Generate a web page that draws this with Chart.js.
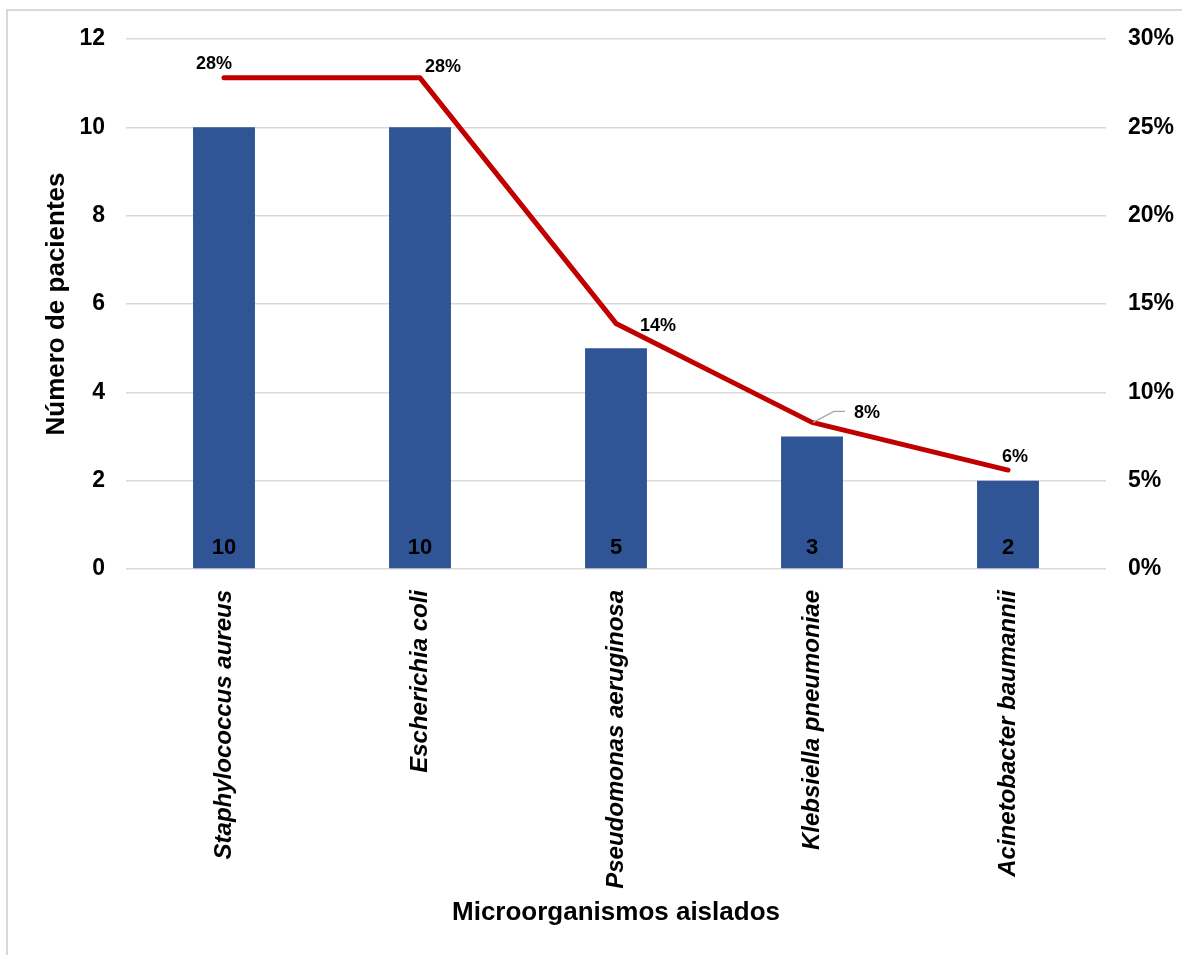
<!DOCTYPE html>
<html lang="es">
<head>
<meta charset="utf-8">
<title>Microorganismos aislados</title>
<script src="https://cdn.jsdelivr.net/npm/chart.js@4/dist/chart.umd.min.js"></script>
<style>
  html, body { margin: 0; padding: 0; background: #fff; overflow: hidden; }
  #marco {
    position: absolute; left: 6px; top: 9px; width: 1300px; height: 1100px;
    border-left: 2px solid #d9d9d9; border-top: 2px solid #d9d9d9;
  }
  #contenedor { position: absolute; left: 0; top: 0; width: 1182px; height: 955px; }
</style>
</head>
<body>
<div id="marco"></div>
<div id="contenedor"><canvas id="grafico"></canvas></div>
<script>
// datos
const categorias = ['Staphylococcus aureus', 'Escherichia coli', 'Pseudomonas aeruginosa', 'Klebsiella pneumoniae', 'Acinetobacter baumannii'];
const pacientes = [10, 10, 5, 3, 2];
const porcentajes = [27.8, 27.8, 13.9, 8.3, 5.6];

const fuente = "'Liberation Sans', Arial, sans-serif";
const azul = '#2f5597';
const rojo = '#c00000';

// desplazamiento de cada etiqueta de porcentaje respecto a su punto
const despPct = [[-10, -14], [23, -11], [42, 3], [55, -9], [7, -13]];

const etiquetas = {
  id: 'etiquetas',
  afterDatasetsDraw(chart) {
    const ctx = chart.ctx;
    ctx.save();
    ctx.textAlign = 'center';
    ctx.textBaseline = 'middle';
    ctx.fillStyle = '#000';

    // numero dentro de cada barra, cerca de la base
    const barras = chart.getDatasetMeta(0).data;
    const base = chart.scales.y.getPixelForValue(0);
    ctx.font = 'bold 22px ' + fuente;
    barras.forEach((b, i) => {
      ctx.fillText(String(pacientes[i]), b.x, base - 21);
    });

    // porcentajes de la linea
    const puntos = chart.getDatasetMeta(1).data;
    ctx.font = 'bold 18px ' + fuente;
    puntos.forEach((p, i) => {
      const d = despPct[i];
      if (i === 3) {
        ctx.strokeStyle = '#a6a6a6';
        ctx.lineWidth = 1.2;
        ctx.beginPath();
        ctx.moveTo(p.x + 1, p.y);
        ctx.lineTo(p.x + 22, p.y - 11);
        ctx.lineTo(p.x + 33, p.y - 11);
        ctx.stroke();
      }
      ctx.fillText(Math.round(porcentajes[i]) + '%', p.x + d[0], p.y + d[1]);
    });
    ctx.restore();
  }
};

new Chart(document.getElementById('grafico'), {
  data: {
    labels: categorias,
    datasets: [
      {
        type: 'bar',
        data: pacientes,
        backgroundColor: azul,
        yAxisID: 'y',
        barPercentage: 0.316,
        categoryPercentage: 1,
        order: 2
      },
      {
        type: 'line',
        data: porcentajes,
        borderColor: rojo,
        borderWidth: 5,
        borderCapStyle: 'round',
        borderJoinStyle: 'round',
        pointRadius: 0,
        tension: 0,
        yAxisID: 'y2',
        order: 1
      }
    ]
  },
  options: {
    responsive: true,
    maintainAspectRatio: false,
    animation: false,
    layout: { padding: { top: 39, left: 0, right: 0, bottom: 0 } },
    plugins: { legend: { display: false }, tooltip: { enabled: false } },
    scales: {
      x: {
        grid: { display: false, drawTicks: false },
        border: { display: false },
        ticks: {
          autoSkip: false,
          maxRotation: 90,
          minRotation: 90,
          padding: 21,
          color: '#000',
          font: { family: fuente, size: 24, weight: 'bold', style: 'italic' }
        },
        title: {
          display: true,
          text: 'Microorganismos aislados',
          color: '#000',
          font: { family: fuente, size: 26, weight: 'bold' },
          padding: { top: 0, bottom: 27 }
        },
        afterFit(s) { s.height = 386; }
      },
      y: {
        position: 'left',
        min: 0,
        max: 12,
        grid: { color: '#d9d9d9', lineWidth: 1.5, drawTicks: false },
        border: { display: false },
        ticks: {
          stepSize: 2,
          padding: 21,
          color: '#000',
          font: { family: fuente, size: 23, weight: 'bold' }
        },
        title: {
          display: true,
          text: 'Número de pacientes',
          color: '#000',
          font: { family: fuente, size: 26, weight: 'bold' },
          padding: { top: 41, bottom: 0 }
        },
        afterFit(s) { s.width = 126; }
      },
      y2: {
        position: 'right',
        min: 0,
        max: 30,
        grid: { display: false, drawTicks: false },
        border: { display: false },
        ticks: {
          stepSize: 5,
          padding: 22,
          color: '#000',
          font: { family: fuente, size: 23, weight: 'bold' },
          callback: v => v + '%'
        },
        afterFit(s) { s.width = 76; }
      }
    }
  },
  plugins: [etiquetas]
});
</script>
</body>
</html>
